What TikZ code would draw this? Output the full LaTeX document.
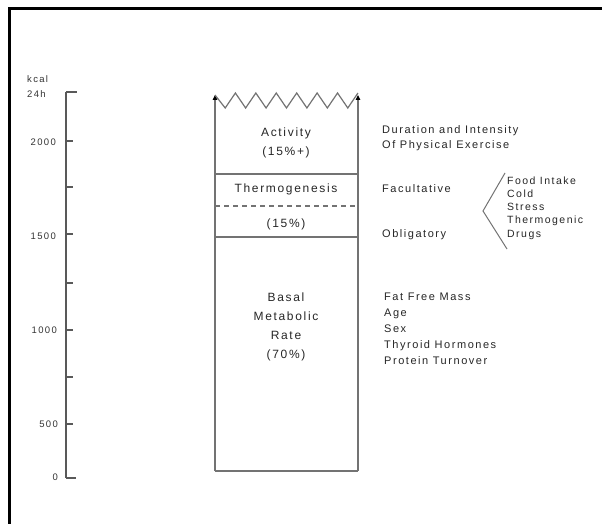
\documentclass[tikz,border=0pt]{standalone}
\usepackage{fontspec}
\setmainfont{Liberation Sans}[LetterSpace=14]
\usetikzlibrary{arrows.meta}

\begin{document}
\begin{tikzpicture}[
    x=1pt, y=-1pt,
    line/.style={draw=black!55, line width=1.2pt},
    tickmark/.style={draw=black!65, line width=1.1pt},
    boxlabel/.style={
        font=\fontsize{12}{19}\selectfont,
        align=center,
        text=black!85,
        inner sep=0pt
    },
    sidelabel/.style={
        font=\fontsize{11}{15.5}\selectfont,
        align=left,
        anchor=west,
        text=black!85,
        inner sep=0pt
    },
    axislabel/.style={
        font=\fontsize{9.5}{11}\selectfont,
        anchor=east,
        text=black!80,
        inner sep=0pt
    },
    tip/.style={-{Triangle[length=5pt,width=4.5pt,color=black]}}
]
    \useasboundingbox (0,0) rectangle (602,524);

    % frame
    \draw[line width=3pt] (9,524) -- (9,9) -- (602,9);

    % kcal scale
    \coordinate (axtop) at (66,92);
    \coordinate (axbot) at (66,478);
    \draw[tickmark] (axtop) -- (axbot);
    \draw[tickmark] (axtop) -- ++(11,0);
    \draw[tickmark] (axbot) -- ++(10,0);
    \foreach \y in {141,187,234,283,330,377,424}
        \draw[tickmark] (66,\y) -- ++(7,0);
    \node[axislabel, anchor=west] (kcal) at (27,79) {kcal};
    \node[axislabel, anchor=west] (day) at (27,94) {24h};
    \node[axislabel] (k2000) at (56,142) {2000};
    \node[axislabel] (k1500) at (56,236) {1500};
    \node[axislabel] (k1000) at (57,330) {1000};
    \node[axislabel] (k500) at (58,424) {500};
    \node[axislabel] (k0) at (58,477) {0};

    % energy column
    \coordinate (tl) at (215,95);
    \coordinate (tr) at (358,95);
    \coordinate (bl) at (215,471);
    \coordinate (br) at (358,471);
    \draw[line, tip] (bl) -- (tl);
    \draw[line, tip] (br) -- (tr);
    \draw[line] (bl) -- (br);
    \draw[line] (tl) \foreach \i in {0,...,6} {
        -- ({225.2+20.43*\i},108) -- ({235.4+20.43*\i},93) };
    \draw[line] (215,174) -- (358,174);
    \draw[line, dash pattern=on 5pt off 4pt] (215,206) -- (358,206);
    \draw[line] (215,237) -- (358,237);

    \node[boxlabel] (act) at (286,143) {Activity\\(15\%+)};
    \node[boxlabel] (thermo) at (286,189) {Thermogenesis};
    \node[boxlabel] (thpct) at (286,224) {(15\%)};
    \node[boxlabel] (bmr) at (286,327) {Basal\\Metabolic\\Rate\\(70\%)};

    % determinants
    \node[sidelabel] (exer) at (382,138) {Duration and Intensity\\Of Physical Exercise};
    \node[sidelabel] (fac) at (382,189) {Facultative};
    \node[sidelabel] (obl) at (382,235) {Obligatory};
    \node[sidelabel, font=\fontsize{10.5}{13.2}\selectfont] (facs) at (507,208)
        {Food Intake\\Cold\\Stress\\Thermogenic\\Drugs};
    \node[sidelabel, font=\fontsize{11}{16}\selectfont] (bmrf) at (384,329)
        {Fat Free Mass\\Age\\Sex\\Thyroid Hormones\\Protein Turnover};

    % bracket
    \coordinate (brtop) at (505,173);
    \coordinate (brmid) at (483,211);
    \coordinate (brbot) at (507,249);
    \draw[line, line width=1pt] (brtop) -- (brmid) -- (brbot);
\end{tikzpicture}
\end{document}
